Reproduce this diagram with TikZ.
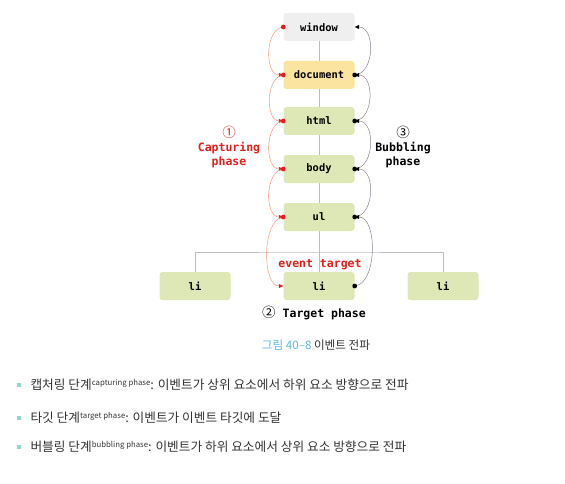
\documentclass[tikz,border=0pt]{standalone}
\usepackage{fontspec}
\setmainfont{Noto Sans CJK KR}
\newfontfamily\codefont{DejaVu Sans Mono}
\usetikzlibrary{arrows.meta, positioning}
\definecolor{evRed}{HTML}{E0201C}
\definecolor{evOrange}{HTML}{F29A7E}
\definecolor{evPurple}{HTML}{8C8096}
\definecolor{evGreen}{HTML}{DDE8B6}
\definecolor{evYellow}{HTML}{FBE3A0}
\definecolor{evWin}{HTML}{EFEFEF}
\definecolor{evGrey}{HTML}{BDBDBD}
\definecolor{evBlue}{HTML}{5FB9DA}
\definecolor{evTeal}{HTML}{8ED8CC}
\definecolor{evText}{HTML}{333333}
\tikzset{
  elembox/.style   = {fill=#1, rounded corners=3pt, minimum width=71pt,
                      minimum height=28pt, inner sep=0pt,
                      font=\codefont\bfseries\fontsize{10.4}{12}\selectfont},
  treeline/.style  = {evGrey, line width=0.7pt},
  caparc/.style    = {evOrange, line width=0.5pt,
                      -{Triangle[length=4.5pt, width=4pt, color=evRed]}},
  bubarc/.style    = {evPurple, line width=0.5pt,
                      -{Triangle[length=4.5pt, width=4pt, color=black]}},
  capdot/.style    = {evRed},
  bubdot/.style    = {black},
  phaselbl/.style  = {align=center, font=\codefont\bfseries\fontsize{11.5}{14}\selectfont},
  bullettxt/.style = {anchor=west, text=evText, font=\fontsize{12.7}{15}\selectfont},
}
\newcommand{\supnote}[1]{\raisebox{3.8pt}{\fontsize{7.8}{8}\selectfont #1}}

\begin{document}
\begin{tikzpicture}[x=1pt, y=1pt]
  \useasboundingbox (0,0) rectangle (565,483);
  % DOM tree
  \node[elembox=evWin]    (win)  at (319,456) {window};
  \node[elembox=evYellow] (doc)  at (319,408) {document};
  \node[elembox=evGreen]  (html) at (319,362) {html};
  \node[elembox=evGreen]  (body) at (319,314) {body};
  \node[elembox=evGreen]  (ul)   at (319,266) {ul};
  \node[elembox=evGreen]  (lim)  at (319,197) {li};
  \node[elembox=evGreen]  (lil)  at (195,197) {li};
  \node[elembox=evGreen]  (lir)  at (443,197) {li};
  \coordinate (fork) at (319,231);
  \draw[treeline] (win) -- (doc);
  \draw[treeline] (doc) -- (html);
  \draw[treeline] (html) -- (body);
  \draw[treeline] (body) -- (ul);
  \draw[treeline] (ul) -- (lim);
  \draw[treeline] (lil.north) |- (fork) -| (lir.north);
  % capturing: down the left side
  \foreach \a/\b in {win/doc, doc/html, html/body, body/ul} {
    \draw[caparc] (\a.west) to[out=185, in=180, looseness=1.0] (\b.west);
    \fill[capdot] (\a.west) circle (2.4pt);
  }
  \draw[caparc] (ul.west) to[out=185, in=180, looseness=0.8] (lim.west);
  \fill[capdot] (ul.west) circle (2.4pt);
  % bubbling: up the right side
  \foreach \a/\b in {doc/win, html/doc, body/html, ul/body} {
    \draw[bubarc] (\a.east) to[out=5, in=0, looseness=1.1] (\b.east);
    \fill[bubdot] (\a.east) circle (2.4pt);
  }
  \draw[bubarc] (lim.east) to[out=5, in=0, looseness=0.85] (ul.east);
  \fill[bubdot] (lim.east) circle (2.4pt);
  % phase labels
  \node[phaselbl, evRed] (caplbl) at (229,336) {{\normalfont\fontsize{13.5}{14}\selectfont ①}\\Capturing\\phase};
  \node[phaselbl]        (bublbl) at (403,336) {{\normalfont\fontsize{13.5}{14}\selectfont ③}\\Bubbling\\phase};
  \node[phaselbl, evRed] (tgtlbl) at (320,218) {event target};
  \node[phaselbl]        (tgtph)  at (314,170) {{\normalfont\fontsize{13.5}{14}\selectfont ②} Target phase};
  % caption
  \node[font=\fontsize{11.6}{13}\selectfont, text=evText] (cap) at (316,138)
    {\textcolor{evBlue}{그림 40–8} 이벤트 전파};
  % bullet list
  \foreach \y in {98,65,36}
    \fill[evTeal] (17,\y-2) rectangle (21,\y+2);
  \node[bullettxt] (b1) at (27,98) {캡처링 단계\supnote{capturing phase}: 이벤트가 상위 요소에서 하위 요소 방향으로 전파};
  \node[bullettxt] (b2) at (27,65) {타깃 단계\supnote{target phase}: 이벤트가 이벤트 타깃에 도달};
  \node[bullettxt] (b3) at (27,36) {버블링 단계\supnote{bubbling phase}: 이벤트가 하위 요소에서 상위 요소 방향으로 전파};
\end{tikzpicture}
\end{document}
